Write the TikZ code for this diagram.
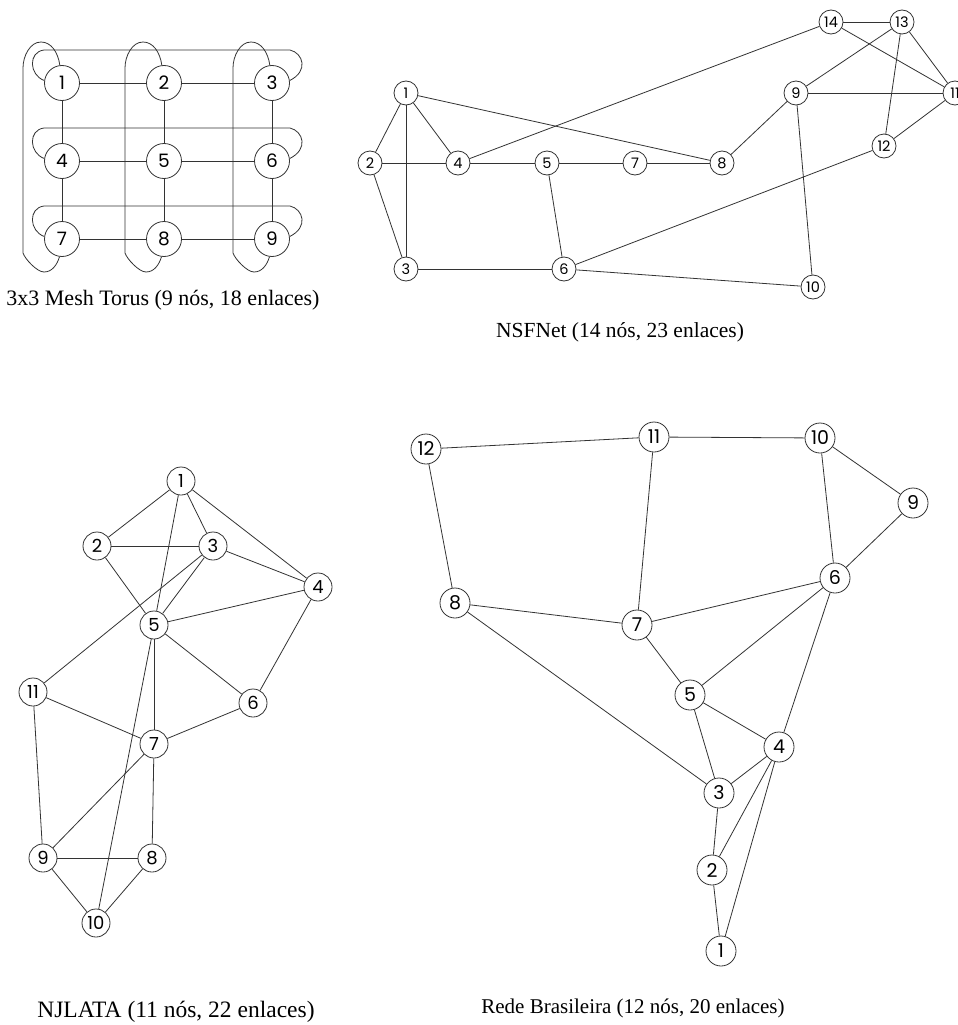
\documentclass[tikz,border=0pt]{standalone}
\usepackage{fontspec}
\setmainfont{Liberation Serif}
\newfontfamily\numfont{Poppins}
\begin{document}
\begin{tikzpicture}[x=1pt,y=-1pt,
  edge/.style={draw=black!80, line width=0.8pt},
  base/.style={circle, draw=black!80, line width=0.8pt, fill=white, inner sep=0pt},
  tn/.style={base, minimum size=35pt, font=\numfont\fontsize{18.5}{18.5}\selectfont},
  nn/.style={base, minimum size=24pt, font=\numfont\fontsize{14.5}{14.5}\selectfont},
  jn/.style={base, minimum size=28pt, font=\numfont\fontsize{18}{18}\selectfont},
  bn/.style={base, minimum size=30pt, font=\numfont\fontsize{19}{19}\selectfont},
  captxt/.style={anchor=base, inner sep=0pt, font=\fontsize{21.5}{24}\selectfont}]
\clip (0,0) rectangle (958,1025);
\fill[white] (0,0) rectangle (958,1025);

% ---------------- 3x3 Mesh Torus ----------------
\node[tn] (t1) at (62,83) {1};
\node[tn] (t2) at (164,83) {2};
\node[tn] (t3) at (272,83) {3};
\node[tn] (t4) at (62,161) {4};
\node[tn] (t5) at (164,161) {5};
\node[tn] (t6) at (272,161) {6};
\node[tn] (t7) at (62,239) {7};
\node[tn] (t8) at (164,239) {8};
\node[tn] (t9) at (272,239) {9};
\foreach \a/\b in {t1/t2,t2/t3,t4/t5,t5/t6,t7/t8,t8/t9,t1/t4,t4/t7,t2/t5,t5/t8,t3/t6,t6/t9}
  \draw[edge] (\a) -- (\b);
% row wrap-around links
\foreach \l/\r/\cy in {t1/t3/83,t4/t6/161,t7/t9/239}
  \draw[edge] (\l.172) .. controls (29,\cy-8) and (28,\cy-31) .. (44,\cy-33)
     -- (290,\cy-33) .. controls (303,\cy-30) and (309,\cy-12) .. (\r.8);
% column wrap-around links
\foreach \tp/\bt/\cx in {t1/t7/62,t2/t8/164,t3/t9/272}
  \draw[edge] (\tp.97) .. controls (\cx-4,52) and (\cx-11,42) .. (\cx-21,42)
     .. controls (\cx-32,42) and (\cx-39,56) .. (\cx-39,68)
     -- (\cx-39,253) .. controls (\cx-37,259) and (\cx-25,272) .. (\cx-18,272)
     .. controls (\cx-10,272) and (\cx-5,265) .. (\bt.262);
\node[captxt, font=\fontsize{22}{24}\selectfont] (tcap) at (163,305) {3x3 Mesh Torus (9 nós, 18 enlaces)};

% ---------------- NSFNet ----------------
\node[nn] (n1) at (406,93) {1};
\node[nn] (n2) at (370,163) {2};
\node[nn] (n3) at (406,269) {3};
\node[nn] (n4) at (458,163) {4};
\node[nn] (n5) at (547,163) {5};
\node[nn] (n6) at (564,269) {6};
\node[nn] (n7) at (635,163) {7};
\node[nn] (n8) at (722,163) {8};
\node[nn] (n9) at (796,93) {9};
\node[nn] (n10) at (813,287) {10};
\node[nn] (n11) at (955,93) {11};
\node[nn] (n12) at (884,146) {12};
\node[nn] (n13) at (902,22) {13};
\node[nn] (n14) at (831,22) {14};
\foreach \a/\b in {n1/n2,n1/n3,n1/n4,n1/n8,n2/n4,n2/n3,n4/n5,n4/n14,n5/n7,n5/n6,n7/n8,n3/n6,n6/n12,n6/n10,n8/n9,n9/n13,n9/n11,n9/n10,n14/n13,n14/n11,n13/n11,n13/n12,n12/n11}
  \draw[edge] (\a) -- (\b);
\node[captxt] (ncap) at (620,337) {NSFNet (14 nós, 23 enlaces)};

% ---------------- NJLATA ----------------
\node[jn] (j1) at (181,481) {1};
\node[jn] (j2) at (97,546) {2};
\node[jn] (j3) at (213,546) {3};
\node[jn] (j4) at (318,587) {4};
\node[jn] (j5) at (154,625) {5};
\node[jn] (j6) at (253,703) {6};
\node[jn] (j7) at (154,744) {7};
\node[jn] (j8) at (152,858) {8};
\node[jn] (j9) at (43,858) {9};
\node[jn] (j10) at (96,923) {10};
\node[jn] (j11) at (33,692) {11};
\foreach \a/\b in {j1/j2,j1/j3,j1/j4,j1/j5,j2/j3,j2/j5,j3/j4,j3/j5,j3/j11,j4/j5,j4/j6,j5/j6,j5/j7,j5/j10,j11/j7,j11/j9,j6/j7,j7/j9,j7/j8,j9/j8,j9/j10,j8/j10}
  \draw[edge] (\a) -- (\b);
\node[captxt, font=\fontsize{23.5}{26}\selectfont] (jcap) at (176,1017) {NJLATA (11 nós, 22 enlaces)};

% ---------------- Rede Brasileira ----------------
\node[bn] (b1) at (721,951) {1};
\node[bn] (b2) at (712,870) {2};
\node[bn] (b3) at (719,793) {3};
\node[bn] (b4) at (779,747) {4};
\node[bn] (b5) at (690,695) {5};
\node[bn] (b6) at (835,578) {6};
\node[bn] (b7) at (637,625) {7};
\node[bn] (b8) at (455,603) {8};
\node[bn] (b9) at (913,503) {9};
\node[bn] (b10) at (820,438) {10};
\node[bn] (b11) at (654,437) {11};
\node[bn] (b12) at (426,449) {12};
\foreach \a/\b in {b12/b11,b11/b10,b12/b8,b11/b7,b10/b6,b10/b9,b9/b6,b8/b7,b8/b3,b7/b6,b7/b5,b6/b5,b6/b4,b5/b4,b5/b3,b4/b3,b4/b2,b4/b1,b3/b2,b2/b1}
  \draw[edge] (\a) -- (\b);
\node[captxt, font=\fontsize{21}{24}\selectfont] (bcap) at (633,1013) {Rede Brasileira (12 nós, 20 enlaces)};
\end{tikzpicture}
\end{document}
